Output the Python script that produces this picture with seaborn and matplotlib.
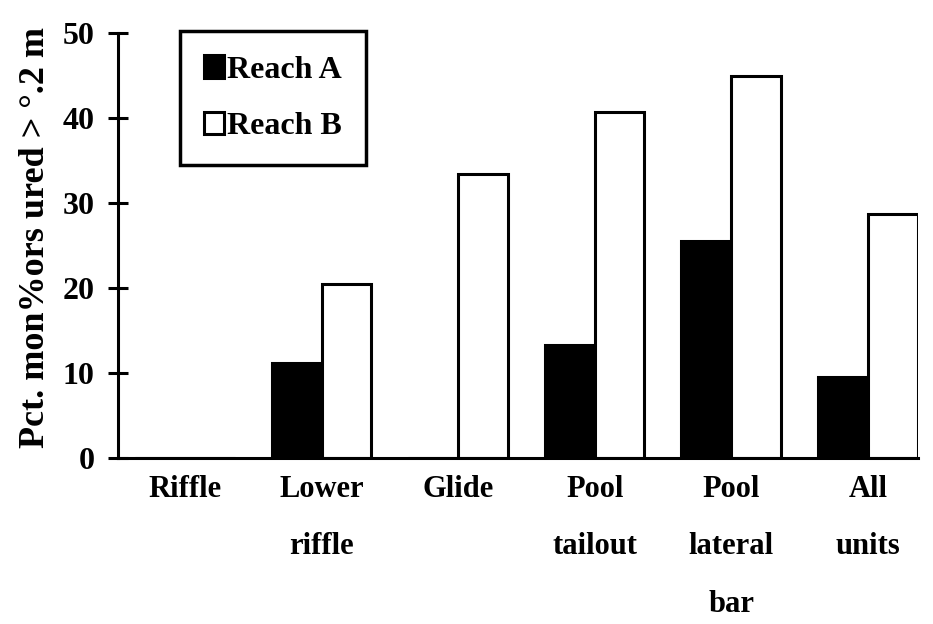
import pandas as pd
import numpy as np
import matplotlib
matplotlib.use('Agg')
import matplotlib.pyplot as plt
import seaborn as sns

# Values
categories = ['Riffle', 'Lower\nriffle', 'Glide', 'Pool\ntailout', 'Pool\nlateral\nbar', 'All\nunits']
reach_a = [0, 11.2, 0, 13.3, 25.5, 9.5]
reach_b = [0, 20.5, 33.4, 40.7, 44.9, 28.7]
groups = ['Reach A', 'Reach B']
yticks = [0, 10, 20, 30, 40, 50]

df = pd.DataFrame({
    'unit': categories * 2,
    'reach': [groups[0]] * len(categories) + [groups[1]] * len(categories),
    'pct': reach_a + reach_b,
})

sns.set_style('white')
plt.rcParams['font.family'] = ['Liberation Serif', 'DejaVu Serif']
plt.rcParams['font.weight'] = 'bold'
for key in ['text.color', 'axes.labelcolor', 'xtick.color', 'ytick.color']:
    plt.rcParams[key] = 'black'

fig = plt.figure(figsize=(9.33, 6.24), dpi=100)
ax = fig.add_axes([0.1265, 0.266, 0.857, 0.681])

sns.barplot(data=df, x='unit', y='pct', hue='reach', order=categories, hue_order=groups,
            palette=['black', 'white'], edgecolor='black', linewidth=2.2,
            width=0.73, saturation=1, ax=ax)

ax.set_xlim(-0.49, 5.365)
ax.set_ylim(0, 50)
ax.set_yticks(yticks)
ax.set_yticklabels([str(t) for t in yticks], fontsize=23, fontweight='bold')
ax.set_xticks(range(len(categories)))
ax.set_xticklabels(categories, fontsize=22, fontweight='bold', linespacing=2.3, va='top')
ax.tick_params(axis='x', bottom=False, length=0, pad=12)
ax.tick_params(axis='y', left=True, direction='inout', length=14, width=2.2, pad=10)
ax.set_xlabel('')
ax.set_ylabel('Pct. mon%ors ured > °.2 m', fontsize=26, fontweight='bold')
ax.yaxis.set_label_coords(-0.082, 0.52)

sns.despine(ax=ax)
for side in ['left', 'bottom']:
    ax.spines[side].set_linewidth(2.2)
    ax.spines[side].set_color('black')

leg = ax.legend(loc='upper left', bbox_to_anchor=(0.078, 1.004), frameon=True, fancybox=False,
                edgecolor='black', fontsize=23, handlelength=0.6, handleheight=0.7,
                handletextpad=0.12, labelspacing=0.85, borderpad=0.75, borderaxespad=0)
leg.get_frame().set_linewidth(2.5)
leg.get_frame().set_alpha(1)
for t in leg.get_texts():
    t.set_fontweight('bold')

fig.savefig('out.png', dpi=100, facecolor='white')
